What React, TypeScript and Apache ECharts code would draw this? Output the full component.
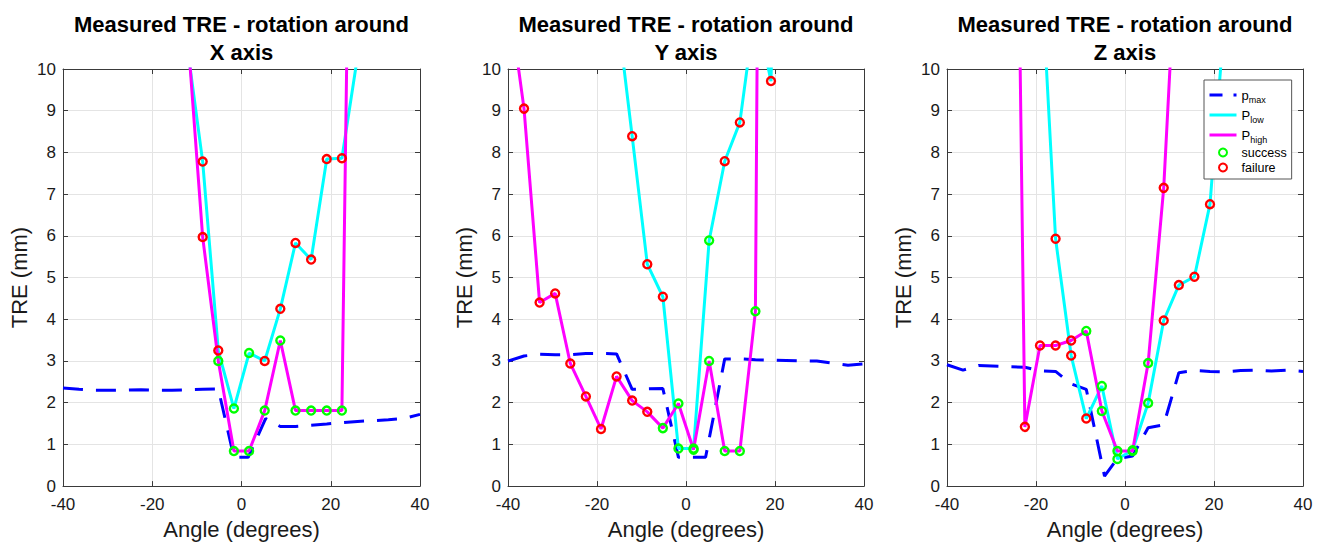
import React, { useEffect, useRef } from "react";
import * as echarts from "echarts";

const FONT = "'Liberation Sans', Arial, Helvetica, sans-serif";

const titleLine = "Measured TRE - rotation around";
const panelAxisNames = ["X axis", "Y axis", "Z axis"];
const xAxisName = "Angle (degrees)";
const yAxisName = "TRE (mm)";

// ---------- Rotation around X ----------
const xPmaxAngle = [-40, -36.4, -32.9, -29.4, -26.0, -22.5, -19.1, -15.6, -12.1, -8.7, -5.2, -1.7, 1.5, 5.4, 8.7, 12.1, 15.6, 19.1, 22.5, 26.0, 29.4, 32.9, 36.4, 40];
const xPmaxTRE = [2.35, 2.32, 2.3, 2.3, 2.3, 2.31, 2.3, 2.3, 2.31, 2.32, 2.33, 0.69, 0.69, 1.62, 1.43, 1.43, 1.46, 1.49, 1.52, 1.55, 1.57, 1.59, 1.62, 1.72];
const xLowAngle = [-12.1, -8.7, -5.2, -1.7, 1.7, 5.2, 8.7, 12.1, 15.6, 19.1, 22.5, 26.0];
const xLowTRE = [10.5, 7.78, 3.25, 1.86, 3.19, 3.0, 4.25, 5.83, 5.43, 7.84, 7.86, 10.3];
const xHighAngle = [-12.1, -8.7, -5.2, -1.7, 1.7, 5.2, 8.7, 12.1, 15.6, 19.1, 22.5, 26.0];
const xHighTRE = [10.9, 5.97, 3.0, 0.84, 0.84, 1.81, 3.49, 1.81, 1.81, 1.81, 1.81, 29];
const xSuccessAngle = [-5.2, -1.7, -1.7, 1.7, 1.7, 5.2, 8.7, 12.1, 15.6, 19.1, 22.5];
const xSuccessTRE = [3.0, 1.86, 0.84, 3.19, 0.84, 1.81, 3.49, 1.81, 1.81, 1.81, 1.81];
const xFailureAngle = [-8.7, -8.7, -5.2, 5.2, 8.7, 12.1, 15.6, 19.1, 22.5];
const xFailureTRE = [7.78, 5.97, 3.25, 3.0, 4.25, 5.83, 5.43, 7.84, 7.86];

// ---------- Rotation around Y ----------
const yPmaxAngle = [-40, -36.4, -32.9, -29.4, -26.0, -22.5, -19.1, -15.6, -12.1, -8.7, -5.2, -1.7, 1.7, 4.4, 8.7, 12.1, 15.6, 19.1, 22.5, 26.0, 29.4, 32.9, 36.4, 40];
const yPmaxTRE = [3.0, 3.12, 3.16, 3.15, 3.15, 3.18, 3.18, 3.17, 2.32, 2.33, 2.34, 0.69, 0.69, 0.69, 3.05, 3.05, 3.03, 3.02, 3.01, 3.0, 3.0, 2.95, 2.9, 2.93];
const yLowAngle = [-15.6, -12.1, -8.7, -5.2, -1.7, 1.7, 5.2, 8.7, 12.1, 15.6, 19.1, 22.5];
const yLowTRE = [11.5, 8.39, 5.32, 4.54, 0.9, 0.9, 5.89, 7.79, 8.72, 11.5, 9.71, 25];
const yHighAngle = [-39.8, -36.4, -32.9, -29.4, -26.0, -22.5, -19.1, -15.6, -12.1, -8.7, -5.2, -1.7, 1.7, 5.2, 8.7, 12.1, 15.6, 19.1];
const yHighTRE = [11.7, 9.05, 4.4, 4.62, 2.94, 2.15, 1.37, 2.63, 2.05, 1.78, 1.39, 1.98, 0.87, 3.0, 0.84, 0.84, 4.19, 60];
const ySuccessAngle = [-5.2, -1.7, -1.7, 1.7, 1.7, 5.2, 5.2, 8.7, 12.1, 15.6];
const ySuccessTRE = [1.39, 1.98, 0.9, 0.9, 0.87, 3.0, 5.89, 0.84, 0.84, 4.19];
const yFailureAngle = [-36.4, -32.9, -29.4, -26.0, -22.5, -19.1, -15.6, -12.1, -12.1, -8.7, -8.7, -5.2, 8.7, 12.1, 19.1];
const yFailureTRE = [9.05, 4.4, 4.62, 2.94, 2.15, 1.37, 2.63, 2.05, 8.39, 1.78, 5.32, 4.54, 7.79, 8.72, 9.71];

// ---------- Rotation around Z ----------
const zPmaxAngle = [-40, -36.4, -32.9, -26.0, -22.5, -19.1, -15.6, -12.1, -8.7, -4.6, -1.7, 1.7, 5.2, 8.7, 12.1, 15.6, 19.1, 22.5, 26.0, 29.4, 32.9, 36.4, 40];
const zPmaxTRE = [2.91, 2.78, 2.89, 2.86, 2.85, 2.76, 2.75, 2.45, 2.32, 0.24, 0.66, 0.72, 1.4, 1.47, 2.72, 2.77, 2.75, 2.74, 2.77, 2.78, 2.76, 2.78, 2.75];
const zLowAngle = [-19.1, -15.6, -12.1, -8.7, -5.2, -1.7, 1.7, 5.2, 8.7, 12.1, 15.6, 19.1, 22.5];
const zLowTRE = [12.9, 5.93, 3.13, 1.62, 2.4, 0.65, 0.86, 1.99, 3.97, 4.82, 5.02, 6.76, 11.4];
const zHighAngle = [-26.0, -22.5, -19.1, -15.6, -12.1, -8.7, -5.2, -1.7, 1.7, 5.2, 8.7, 12.1];
const zHighTRE = [30, 1.42, 3.37, 3.37, 3.49, 3.72, 1.8, 0.84, 0.84, 2.95, 7.15, 14.1];
const zSuccessAngle = [-8.7, -5.2, -5.2, -1.7, -1.7, 1.7, 1.7, 5.2, 5.2];
const zSuccessTRE = [3.72, 2.4, 1.8, 0.84, 0.65, 0.86, 0.84, 2.95, 1.99];
const zFailureAngle = [-22.5, -19.1, -15.6, -15.6, -12.1, -12.1, -8.7, 8.7, 8.7, 12.1, 15.6, 19.1];
const zFailureTRE = [1.42, 3.37, 3.37, 5.93, 3.49, 3.13, 1.62, 7.15, 3.97, 4.82, 5.02, 6.76];

const zip = (a: number[], b: number[]) => a.map((v, i) => [v, b[i]]);

const panels = [
  { pmax: zip(xPmaxAngle, xPmaxTRE), low: zip(xLowAngle, xLowTRE), high: zip(xHighAngle, xHighTRE), ok: zip(xSuccessAngle, xSuccessTRE), bad: zip(xFailureAngle, xFailureTRE) },
  { pmax: zip(yPmaxAngle, yPmaxTRE), low: zip(yLowAngle, yLowTRE), high: zip(yHighAngle, yHighTRE), ok: zip(ySuccessAngle, ySuccessTRE), bad: zip(yFailureAngle, yFailureTRE) },
  { pmax: zip(zPmaxAngle, zPmaxTRE), low: zip(zLowAngle, zLowTRE), high: zip(zHighAngle, zHighTRE), ok: zip(zSuccessAngle, zSuccessTRE), bad: zip(zFailureAngle, zFailureTRE) },
];

const gridLayout = [
  { left: 63, top: 69, width: 357, height: 422 },
  { left: 508, top: 69, width: 356, height: 422 },
  { left: 947, top: 69, width: 356, height: 422 },
];

const AXIS = "#3a3a3a";
const GRIDLINE = "#e4e4e4";
const TXT = "#1a1a1a";

export default function App() {
  const ref = useRef<HTMLDivElement>(null);
  useEffect(() => {
    if (!ref.current) return;
    const chart = echarts.init(ref.current, undefined, { renderer: "svg" });

    const xAxes: any[] = [];
    const yAxes: any[] = [];
    const series: any[] = [];
    gridLayout.forEach((g, i) => {
      xAxes.push({
        gridIndex: i, type: "value", min: -40, max: 40, interval: 20, position: "bottom",
        name: xAxisName, nameLocation: "middle", nameGap: 30,
        nameTextStyle: { fontSize: 22, fontFamily: FONT, color: TXT },
        axisLine: { show: true, onZero: false, lineStyle: { color: AXIS, width: 1 } },
        axisTick: { show: true, inside: true, length: 5, lineStyle: { color: AXIS } },
        axisLabel: { fontSize: 17, fontFamily: FONT, color: TXT, margin: 10 },
        splitLine: { show: true, lineStyle: { color: GRIDLINE, width: 1 } },
      });
      xAxes.push({
        gridIndex: i, type: "value", min: -40, max: 40, interval: 20, position: "top",
        axisLine: { show: true, onZero: false, lineStyle: { color: AXIS, width: 1 } },
        axisTick: { show: true, inside: true, length: 5, lineStyle: { color: AXIS } },
        axisLabel: { show: false }, splitLine: { show: false },
      });
      yAxes.push({
        gridIndex: i, type: "value", min: 0, max: 10, interval: 1, position: "left",
        name: yAxisName, nameLocation: "middle", nameGap: 33,
        nameTextStyle: { fontSize: 22, fontFamily: FONT, color: TXT },
        axisLine: { show: true, onZero: false, lineStyle: { color: AXIS, width: 1 } },
        axisTick: { show: true, inside: true, length: 5, lineStyle: { color: AXIS } },
        axisLabel: { fontSize: 17, fontFamily: FONT, color: TXT, margin: 7 },
        splitLine: { show: true, lineStyle: { color: GRIDLINE, width: 1 } },
      });
      yAxes.push({
        gridIndex: i, type: "value", min: 0, max: 10, interval: 1, position: "right",
        axisLine: { show: true, onZero: false, lineStyle: { color: AXIS, width: 1 } },
        axisTick: { show: true, inside: true, length: 5, lineStyle: { color: AXIS } },
        axisLabel: { show: false }, splitLine: { show: false },
      });
      const p = panels[i];
      const xi = i * 2;
      const yi = i * 2;
      series.push({
        name: "pmax", type: "line", xAxisIndex: xi, yAxisIndex: yi, data: p.pmax,
        symbol: "none", lineStyle: { color: "#0000ff", width: 3, type: [20, 13] },
        itemStyle: { color: "#0000ff" }, z: 2,
      });
      series.push({
        name: "Plow", type: "line", xAxisIndex: xi, yAxisIndex: yi, data: p.low,
        symbol: "none", lineStyle: { color: "#00ffff", width: 3 }, itemStyle: { color: "#00ffff" }, z: 3,
      });
      series.push({
        name: "Phigh", type: "line", xAxisIndex: xi, yAxisIndex: yi, data: p.high,
        symbol: "none", lineStyle: { color: "#ff00ff", width: 3 }, itemStyle: { color: "#ff00ff" }, z: 4,
      });
      series.push({
        name: "success", type: "scatter", xAxisIndex: xi, yAxisIndex: yi, data: p.ok,
        symbol: "circle", symbolSize: 8,
        itemStyle: { color: "rgba(0,0,0,0)", borderColor: "#00ff00", borderWidth: 2.4, opacity: 1 }, z: 5,
      });
      series.push({
        name: "failure", type: "scatter", xAxisIndex: xi, yAxisIndex: yi, data: p.bad,
        symbol: "circle", symbolSize: 8,
        itemStyle: { color: "rgba(0,0,0,0)", borderColor: "#ff0000", borderWidth: 2.4, opacity: 1 }, z: 5,
      });
    });

    const titles = gridLayout.map((g, i) => ({
      type: "text",
      x: g.left + g.width / 2,
      y: 10,
      style: {
        text: titleLine + "\n" + panelAxisNames[i],
        fontSize: 22, fontWeight: "bold", fontFamily: FONT, fill: "#000",
        textAlign: "center", textVerticalAlign: "top", lineHeight: 28,
      },
    }));

    const subMap: Record<string, string> = {
      pmax: "{b|p}{s|max}",
      Plow: "{b|P}{s|low}",
      Phigh: "{b|P}{s|high}",
      success: "{t|success}",
      failure: "{t|failure}",
    };

    chart.setOption({
      animation: false,
      backgroundColor: "#fff",
      grid: gridLayout.map((g) => ({ ...g, show: false, containLabel: false })),
      xAxis: xAxes,
      yAxis: yAxes,
      graphic: titles,
      legend: {
        left: 1204, top: 80, orient: "vertical",
        data: [
          { name: "pmax", lineStyle: { type: [13, 11], width: 3 }, itemStyle: { opacity: 0 } },
          { name: "Plow", lineStyle: { width: 3 }, itemStyle: { opacity: 0 } },
          { name: "Phigh", lineStyle: { width: 3 }, itemStyle: { opacity: 0 } },
          { name: "success" },
          { name: "failure" },
        ],
        itemWidth: 27, itemHeight: 8, itemGap: 2,
        padding: [6, 5, 5, 4],
        backgroundColor: "#fff", borderColor: "#555", borderWidth: 1, borderRadius: 0,
        selectedMode: false,
        formatter: (name: string) => subMap[name] || name,
        textStyle: {
          fontSize: 12, fontFamily: FONT, color: "#000",
          rich: {
            b: { fontSize: 13, fontFamily: FONT, color: "#000", height: 18, lineHeight: 18 },
            s: { fontSize: 9, fontFamily: FONT, color: "#000", padding: [9, 0, 0, 0] },
            t: { fontSize: 12.5, fontFamily: FONT, color: "#000", height: 13, lineHeight: 13 },
          },
        },
      },
      series,
    });
    return () => chart.dispose();
  }, []);
  return (
    <div
      ref={ref}
      style={{ position: "absolute", left: 0, top: 0, width: 1321, height: 545, background: "#fff" }}
    />
  );
}
